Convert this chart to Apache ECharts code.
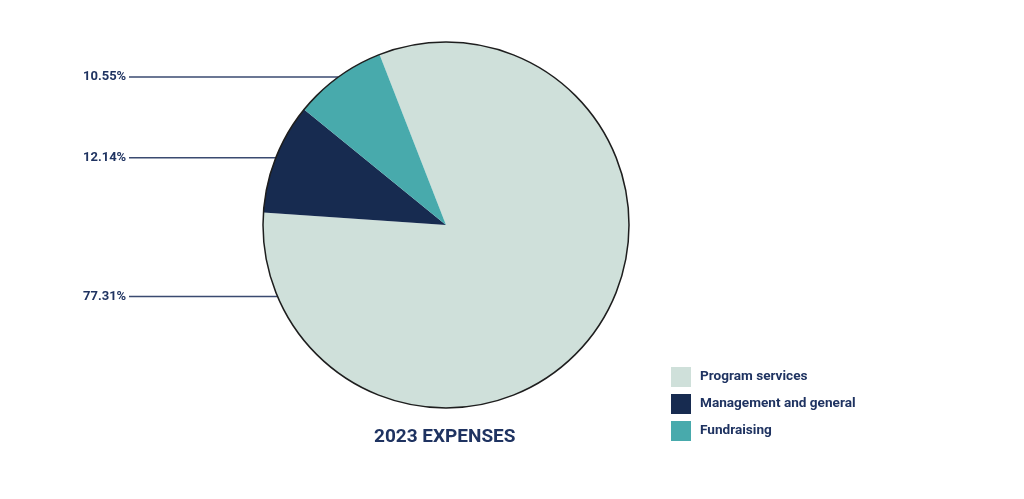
<!DOCTYPE html>
<html>
<head>
<meta charset="utf-8">
<script src="https://cdn.jsdelivr.net/npm/echarts@6/dist/echarts.min.js"></script>
<style>
html,body{margin:0;padding:0;background:#fff;}
#chart{width:1024px;height:499px;}
</style>
</head>
<body>
<div id="chart"></div>
<script>
// Data
const categories = ['Program services', 'Management and general', 'Fundraising'];
const drawnShares = [82.0, 9.8, 8.2];           // slice sizes as drawn (%)
const labelTexts = ['77.31%', '12.14%', '10.55%']; // printed labels
const chartTitle = '2023 EXPENSES';

// Styling / layout
const colors = ['#cfe0da', '#172b50', '#48aaac'];
const textColor = '#1f3361';
const PIE_CX = 446, PIE_CY = 225, PIE_R = 183;
const START_ANGLE = 111.3;
const LABEL_X = 83, LINE_END_X = 129;
const labelAngleOverride = {0: 203};

const total = drawnShares.reduce((a, b) => a + b, 0);
const cum = [];
drawnShares.reduce((acc, v, i) => { cum[i] = acc; return acc + v; }, 0);

function labelAngle(i) {
  if (labelAngleOverride[i] !== undefined) return labelAngleOverride[i];
  return START_ANGLE - 360 * (cum[i] + drawnShares[i] / 2) / total;
}

const chart = echarts.init(document.getElementById('chart'));
chart.setOption({
  animation: false,
  backgroundColor: '#ffffff',
  title: {
    text: chartTitle,
    left: 369, top: 423,
    textStyle: {fontFamily: 'Roboto', fontWeight: 'bold', fontSize: 19, color: textColor}
  },
  legend: {
    orient: 'vertical',
    left: 671, top: 367,
    padding: 0,
    itemWidth: 20, itemHeight: 20, itemGap: 7,
    icon: 'rect',
    data: categories,
    textStyle: {fontFamily: 'Roboto', fontWeight: 'bold', fontSize: 13.6, color: textColor, padding: [0, 0, 0, 4]}
  },
  series: [{
    type: 'pie',
    center: [PIE_CX, PIE_CY],
    radius: PIE_R,
    startAngle: START_ANGLE,
    clockwise: true,
    avoidLabelOverlap: false,
    data: categories.map((c, i) => ({
      name: c, value: drawnShares[i],
      itemStyle: {color: colors[i]}
    })),
    itemStyle: {borderWidth: 0},
    label: {
      show: true,
      position: 'outside',
      formatter: p => labelTexts[p.dataIndex],
      fontFamily: 'Roboto', fontWeight: 'bold', fontSize: 13, color: textColor
    },
    labelLine: {show: true, length: 0, length2: 10, lineStyle: {color: '#3a4a70', width: 1.6}},
    labelLayout: function (params) {
      const a = labelAngle(params.dataIndex) * Math.PI / 180;
      const ex = PIE_CX + PIE_R * Math.cos(a);
      const ey = PIE_CY - PIE_R * Math.sin(a);
      return {
        x: LABEL_X, y: ey,
        align: 'left', verticalAlign: 'middle',
        labelLinePoints: [[ex, ey], [ex, ey], [LINE_END_X, ey]]
      };
    },
    emphasis: {disabled: true}
  }, {
    type: 'pie',
    center: [PIE_CX, PIE_CY],
    radius: PIE_R,
    silent: true,
    label: {show: false},
    labelLine: {show: false},
    data: [{name: '_outline', value: 1, itemStyle: {color: 'rgba(0,0,0,0)', borderColor: '#1e1e1e', borderWidth: 1.5}}],
    emphasis: {disabled: true}
  }]
});
</script>
</body>
</html>
